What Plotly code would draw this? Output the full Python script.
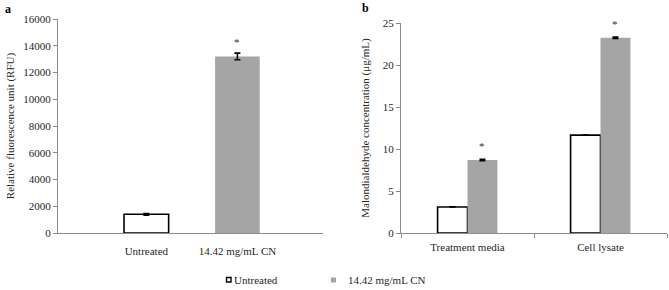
import plotly.graph_objects as go

# ---------------- data ----------------
# Panel a
a_categories = ["Untreated", "14.42 mg/mL CN"]
a_values = [1400, 13200]
a_errors = [60, 250]
a_significant = [False, True]

# Panel b
b_categories = ["Treatment media", "Cell lysate"]
b_untreated = [3.1, 11.65]
b_untreated_err = [0.03, 0.03]
b_cn = [8.7, 23.25]
b_cn_err = [0.08, 0.08]
b_significant = [True, True]

series_names = ["Untreated", "14.42 mg/mL CN"]

a_yticks = [0, 2000, 4000, 6000, 8000, 10000, 12000, 14000, 16000]
b_yticks = [0, 5, 10, 15, 20, 25]

# ---------------- style ----------------
W, H = 669, 290
FONT = "Liberation Serif"
GRAY = "#A5A5A5"
AXIS = "#8C8C8C"
TXT = "#262626"


def px_x(p):
    return p / W


def px_y(p):
    return 1 - p / H


fig = go.Figure()

# Panel a bars (one trace, per-bar colours)
a_x = list(range(len(a_categories)))
fig.add_trace(go.Bar(
    x=a_x, y=a_values,
    width=0.49,
    marker=dict(color=["white", GRAY],
                line=dict(color=["black", GRAY], width=[1.6, 0])),
    error_y=dict(type="data", array=a_errors, color="black", thickness=1.6, width=3),
    showlegend=False, xaxis="x", yaxis="y",
))

# Panel b bars
fig.add_trace(go.Bar(
    x=b_categories, y=b_untreated, name=series_names[0],
    marker=dict(color="white", line=dict(color="black", width=1.6)),
    error_y=dict(type="data", array=b_untreated_err, color="black", thickness=1.2, width=3),
    showlegend=False, xaxis="x2", yaxis="y2",
))
fig.add_trace(go.Bar(
    x=b_categories, y=b_cn, name=series_names[1],
    marker=dict(color=GRAY, line=dict(color=GRAY, width=0)),
    error_y=dict(type="data", array=b_cn_err, color="black", thickness=1.6, width=3),
    showlegend=False, xaxis="x2", yaxis="y2",
))

annotations = []
# asterisks
for i, sig in enumerate(a_significant):
    if sig:
        annotations.append(dict(x=a_x[i], y=a_values[i] + a_errors[i], xref="x", yref="y",
                                text="*", showarrow=False, yanchor="bottom", yshift=3,
                                font=dict(family=FONT, size=11, color="#333333")))
for i, sig in enumerate(b_significant):
    if sig:
        annotations.append(dict(x=i + 0.11, y=b_cn[i] + b_cn_err[i], xref="x2", yref="y2",
                                text="*", showarrow=False, yanchor="bottom", yshift=5,
                                font=dict(family=FONT, size=11, color="#333333")))

# panel letters
annotations.append(dict(x=px_x(3), y=px_y(9), xref="paper", yref="paper", text="<b>a</b>",
                        showarrow=False, xanchor="left", yanchor="middle",
                        font=dict(family=FONT, size=12, color="black")))
annotations.append(dict(x=px_x(360), y=px_y(8), xref="paper", yref="paper", text="<b>b</b>",
                        showarrow=False, xanchor="left", yanchor="middle",
                        font=dict(family=FONT, size=12, color="black")))

# legend (manual)
shapes = [
    dict(type="rect", xref="paper", yref="paper",
         x0=px_x(226.5), x1=px_x(231), y0=px_y(282), y1=px_y(277.5),
         line=dict(color="black", width=1.4), fillcolor="white"),
    dict(type="rect", xref="paper", yref="paper",
         x0=px_x(331), x1=px_x(336), y0=px_y(282.5), y1=px_y(277.5),
         line=dict(width=0), fillcolor=GRAY),
]
annotations.append(dict(x=px_x(232), y=px_y(280), xref="paper", yref="paper", text=series_names[0],
                        showarrow=False, xanchor="left", yanchor="middle",
                        font=dict(family=FONT, size=11, color=TXT)))
annotations.append(dict(x=px_x(346), y=px_y(280), xref="paper", yref="paper", text=series_names[1],
                        showarrow=False, xanchor="left", yanchor="middle",
                        font=dict(family=FONT, size=11, color=TXT)))

tickfont = dict(family=FONT, size=11, color=TXT)
titlefont = dict(family=FONT, size=11, color=TXT)

fig.update_layout(
    width=W, height=H,
    margin=dict(l=0, r=0, t=0, b=0, autoexpand=False),
    paper_bgcolor="white", plot_bgcolor="white",
    barmode="group", bargap=0.55, bargroupgap=0,
    showlegend=False,
    font=dict(family=FONT),
    xaxis=dict(domain=[px_x(58), px_x(323)], range=[-0.97, 1.94],
               tickvals=a_x, ticktext=a_categories, ticks="",
               showline=True, linecolor=AXIS, linewidth=1,
               showgrid=False, zeroline=False, tickfont=tickfont,
               ticklabelstandoff=8, anchor="y", automargin=False),
    yaxis=dict(domain=[px_y(233), px_y(19)], range=[0, 16000],
               tickvals=a_yticks, tickformat="d", ticks="outside", ticklen=4, tickcolor=AXIS,
               showline=True, linecolor=AXIS, linewidth=1,
               showgrid=False, zeroline=False, tickfont=tickfont,
               title=dict(text="Relative fluorescence unit (RFU)", font=titlefont, standoff=6),
               anchor="x", automargin=False),
    xaxis2=dict(domain=[px_x(401), px_x(667)], type="category",
                tickson="boundaries", ticks="outside", ticklen=4, tickcolor=AXIS,
                showline=True, linecolor=AXIS, linewidth=1,
                showgrid=False, zeroline=False, tickfont=tickfont,
                ticklabelstandoff=4, anchor="y2", automargin=False),
    yaxis2=dict(domain=[px_y(233), px_y(23)], range=[0, 25],
                tickvals=b_yticks, ticks="outside", ticklen=4, tickcolor=AXIS,
                showline=True, linecolor=AXIS, linewidth=1,
                showgrid=False, zeroline=False, tickfont=tickfont,
                title=dict(text="Malondialdehyde concentration (μg/mL)", font=titlefont, standoff=10),
                anchor="x2", automargin=False),
    annotations=annotations,
    shapes=shapes,
)

fig.write_html("out.html",
               config={"displayModeBar": False, "staticPlot": True},
               post_script="document.body.style.margin='0';document.body.style.overflow='hidden';")
